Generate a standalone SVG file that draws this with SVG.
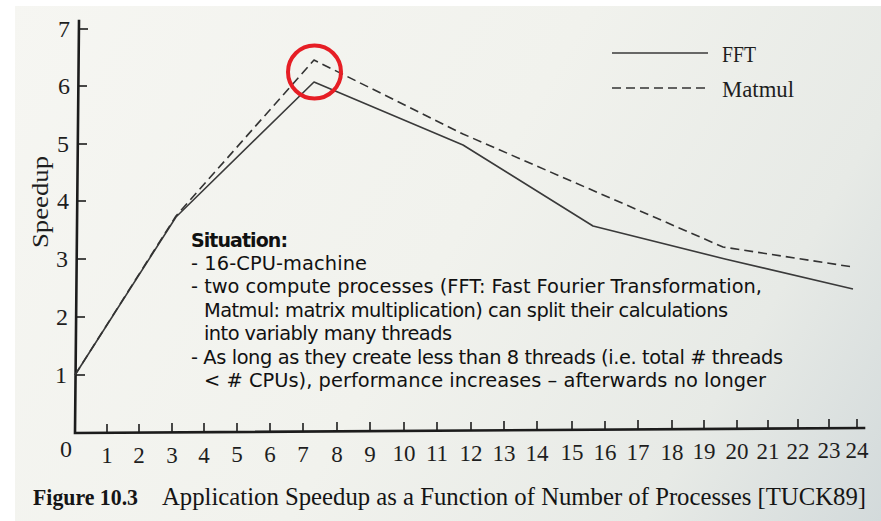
<svg xmlns="http://www.w3.org/2000/svg" width="881" height="521" viewBox="0 0 881 521">
  <defs>
    <linearGradient id="paper" x1="0" y1="0" x2="881" y2="521" gradientUnits="userSpaceOnUse">
      <stop offset="0" stop-color="#f6f6f2"/>
      <stop offset="0.5" stop-color="#f1f2ed"/>
      <stop offset="0.8" stop-color="#e7eae6"/>
      <stop offset="1" stop-color="#d3dadb"/>
    </linearGradient>
    <style>
      .axis { stroke: #1c1c1c; stroke-width: 2.6; fill: none; stroke-linecap: square; }
      .tick { stroke: #1c1c1c; stroke-width: 1.6; }
      .num { font-family: "Liberation Serif", "Times New Roman", serif; font-size: 23px; fill: #1e1e1e; text-anchor: middle; }
      .lbl { font-family: "Liberation Serif", "Times New Roman", serif; font-size: 24px; fill: #1e1e1e; }
      .fft { stroke: #3a3a3a; stroke-width: 1.6; fill: none; stroke-linejoin: round; }
      .mat { stroke: #333; stroke-width: 1.6; fill: none; stroke-dasharray: 9 5; stroke-linejoin: round; }
      .note { font-family: "DejaVu Sans", Verdana, sans-serif; font-size: 19.4px; fill: #111; }
      .cap { font-family: "Liberation Serif", "Times New Roman", serif; fill: #151515; }
    </style>
  </defs>

  <!-- page -->
  <rect width="881" height="521" fill="#ffffff"/>
  <rect x="15" y="6" width="866" height="515" fill="url(#paper)"/>

  <!-- axes -->
  <g id="axes">
    <path class="axis" d="M79 21 L75 433 L864 428"/>
    <g id="y-ticks">
      <line class="tick" x1="79" y1="29" x2="88" y2="29"/>
      <line class="tick" x1="78" y1="86" x2="87" y2="86"/>
      <line class="tick" x1="78" y1="144" x2="87" y2="144"/>
      <line class="tick" x1="77" y1="201" x2="86" y2="201"/>
      <line class="tick" x1="77" y1="259" x2="86" y2="259"/>
      <line class="tick" x1="76" y1="317" x2="85" y2="317"/>
      <line class="tick" x1="76" y1="375" x2="85" y2="375"/>
    </g>
    <g id="y-labels" class="lbl" text-anchor="middle">
      <text x="64" y="37">7</text>
      <text x="64" y="94">6</text>
      <text x="63" y="152">5</text>
      <text x="63" y="209">4</text>
      <text x="62" y="267">3</text>
      <text x="62" y="325">2</text>
      <text x="61" y="383">1</text>
      <text x="66" y="457">0</text>
    </g>
    <g id="x-ticks">
      <line class="tick" x1="107" y1="433" x2="107" y2="424"/>
      <line class="tick" x1="139" y1="433" x2="139" y2="424"/>
      <line class="tick" x1="172" y1="432" x2="172" y2="423"/>
      <line class="tick" x1="204" y1="432" x2="204" y2="423"/>
      <line class="tick" x1="237" y1="432" x2="237" y2="423"/>
      <line class="tick" x1="270" y1="432" x2="270" y2="423"/>
      <line class="tick" x1="303" y1="432" x2="303" y2="423"/>
      <line class="tick" x1="337" y1="431" x2="337" y2="422"/>
      <line class="tick" x1="370" y1="431" x2="370" y2="422"/>
      <line class="tick" x1="404" y1="431" x2="404" y2="422"/>
      <line class="tick" x1="437" y1="431" x2="437" y2="422"/>
      <line class="tick" x1="471" y1="431" x2="471" y2="422"/>
      <line class="tick" x1="504" y1="430" x2="504" y2="421"/>
      <line class="tick" x1="537" y1="430" x2="537" y2="421"/>
      <line class="tick" x1="572" y1="430" x2="572" y2="421"/>
      <line class="tick" x1="605" y1="430" x2="605" y2="421"/>
      <line class="tick" x1="638" y1="429" x2="638" y2="420"/>
      <line class="tick" x1="672" y1="429" x2="672" y2="420"/>
      <line class="tick" x1="704" y1="429" x2="704" y2="420"/>
      <line class="tick" x1="737" y1="429" x2="737" y2="420"/>
      <line class="tick" x1="768" y1="429" x2="768" y2="420"/>
      <line class="tick" x1="798" y1="428" x2="798" y2="419"/>
      <line class="tick" x1="829" y1="428" x2="829" y2="419"/>
      <line class="tick" x1="857" y1="428" x2="857" y2="419"/>
    </g>
    <g id="x-labels" class="num">
      <text x="107" y="463">1</text>
      <text x="139" y="463">2</text>
      <text x="172" y="463">3</text>
      <text x="204" y="463">4</text>
      <text x="237" y="462">5</text>
      <text x="270" y="462">6</text>
      <text x="303" y="462">7</text>
      <text x="337" y="462">8</text>
      <text x="370" y="462">9</text>
      <text x="404" y="461">10</text>
      <text x="437" y="461">11</text>
      <text x="471" y="461">12</text>
      <text x="504" y="461">13</text>
      <text x="537" y="461">14</text>
      <text x="572" y="460">15</text>
      <text x="605" y="460">16</text>
      <text x="638" y="460">17</text>
      <text x="672" y="460">18</text>
      <text x="704" y="459">19</text>
      <text x="737" y="459">20</text>
      <text x="768" y="459">21</text>
      <text x="798" y="459">22</text>
      <text x="829" y="458">23</text>
      <text x="857" y="458">24</text>
    </g>
    <text id="y-title" class="lbl" font-size="26" text-anchor="middle" transform="translate(48 202) rotate(-90)" textLength="92" lengthAdjust="spacingAndGlyphs">Speedup</text>
  </g>

  <!-- data series -->
  <g id="series">
    <polyline id="fft" class="fft" points="75,375 176,217 314,82 463,145 593,226 725,259 853,289"/>
    <polyline id="matmul" class="mat" points="75,375 176,216 314,60 463,134 723,247 853,267"/>
  </g>

  <!-- legend -->
  <g id="legend">
    <line class="fft" x1="612" y1="53" x2="708" y2="53"/>
    <text class="lbl" x="722" y="62" textLength="34" lengthAdjust="spacingAndGlyphs">FFT</text>
    <line class="mat" x1="612" y1="88" x2="708" y2="88" stroke-dasharray="8 4.5"/>
    <text class="lbl" x="722" y="97" textLength="72" lengthAdjust="spacingAndGlyphs">Matmul</text>
  </g>

  <!-- highlight of the peak -->
  <circle id="peak-mark" cx="314.5" cy="72" r="26.5" fill="none" stroke="#e61e25" stroke-width="4"/>

  <!-- explanatory note -->
  <g id="note" class="note">
    <text x="191" y="246.5" font-weight="bold" font-size="19" textLength="97">Situation:</text>
    <text x="191" y="270" textLength="176">- 16-CPU-machine</text>
    <text x="191" y="293.3" textLength="571">- two compute processes (FFT: Fast Fourier Transformation,</text>
    <text x="204" y="316.7" textLength="524">Matmul: matrix multiplication) can split their calculations</text>
    <text x="204" y="340.1" textLength="248">into variably many threads</text>
    <text x="191" y="363.5" textLength="592">- As long as they create less than 8 threads (i.e. total # threads</text>
    <text x="204" y="386.9" textLength="562">&lt; # CPUs), performance increases – afterwards no longer</text>
  </g>

  <!-- caption -->
  <g id="caption" class="cap">
    <text x="33" y="505" font-size="23" font-weight="bold" textLength="105" lengthAdjust="spacingAndGlyphs">Figure 10.3</text>
    <text x="162" y="505" font-size="24.6" textLength="704" lengthAdjust="spacingAndGlyphs">Application Speedup as a Function of Number of Processes [TUCK89]</text>
  </g>
</svg>
